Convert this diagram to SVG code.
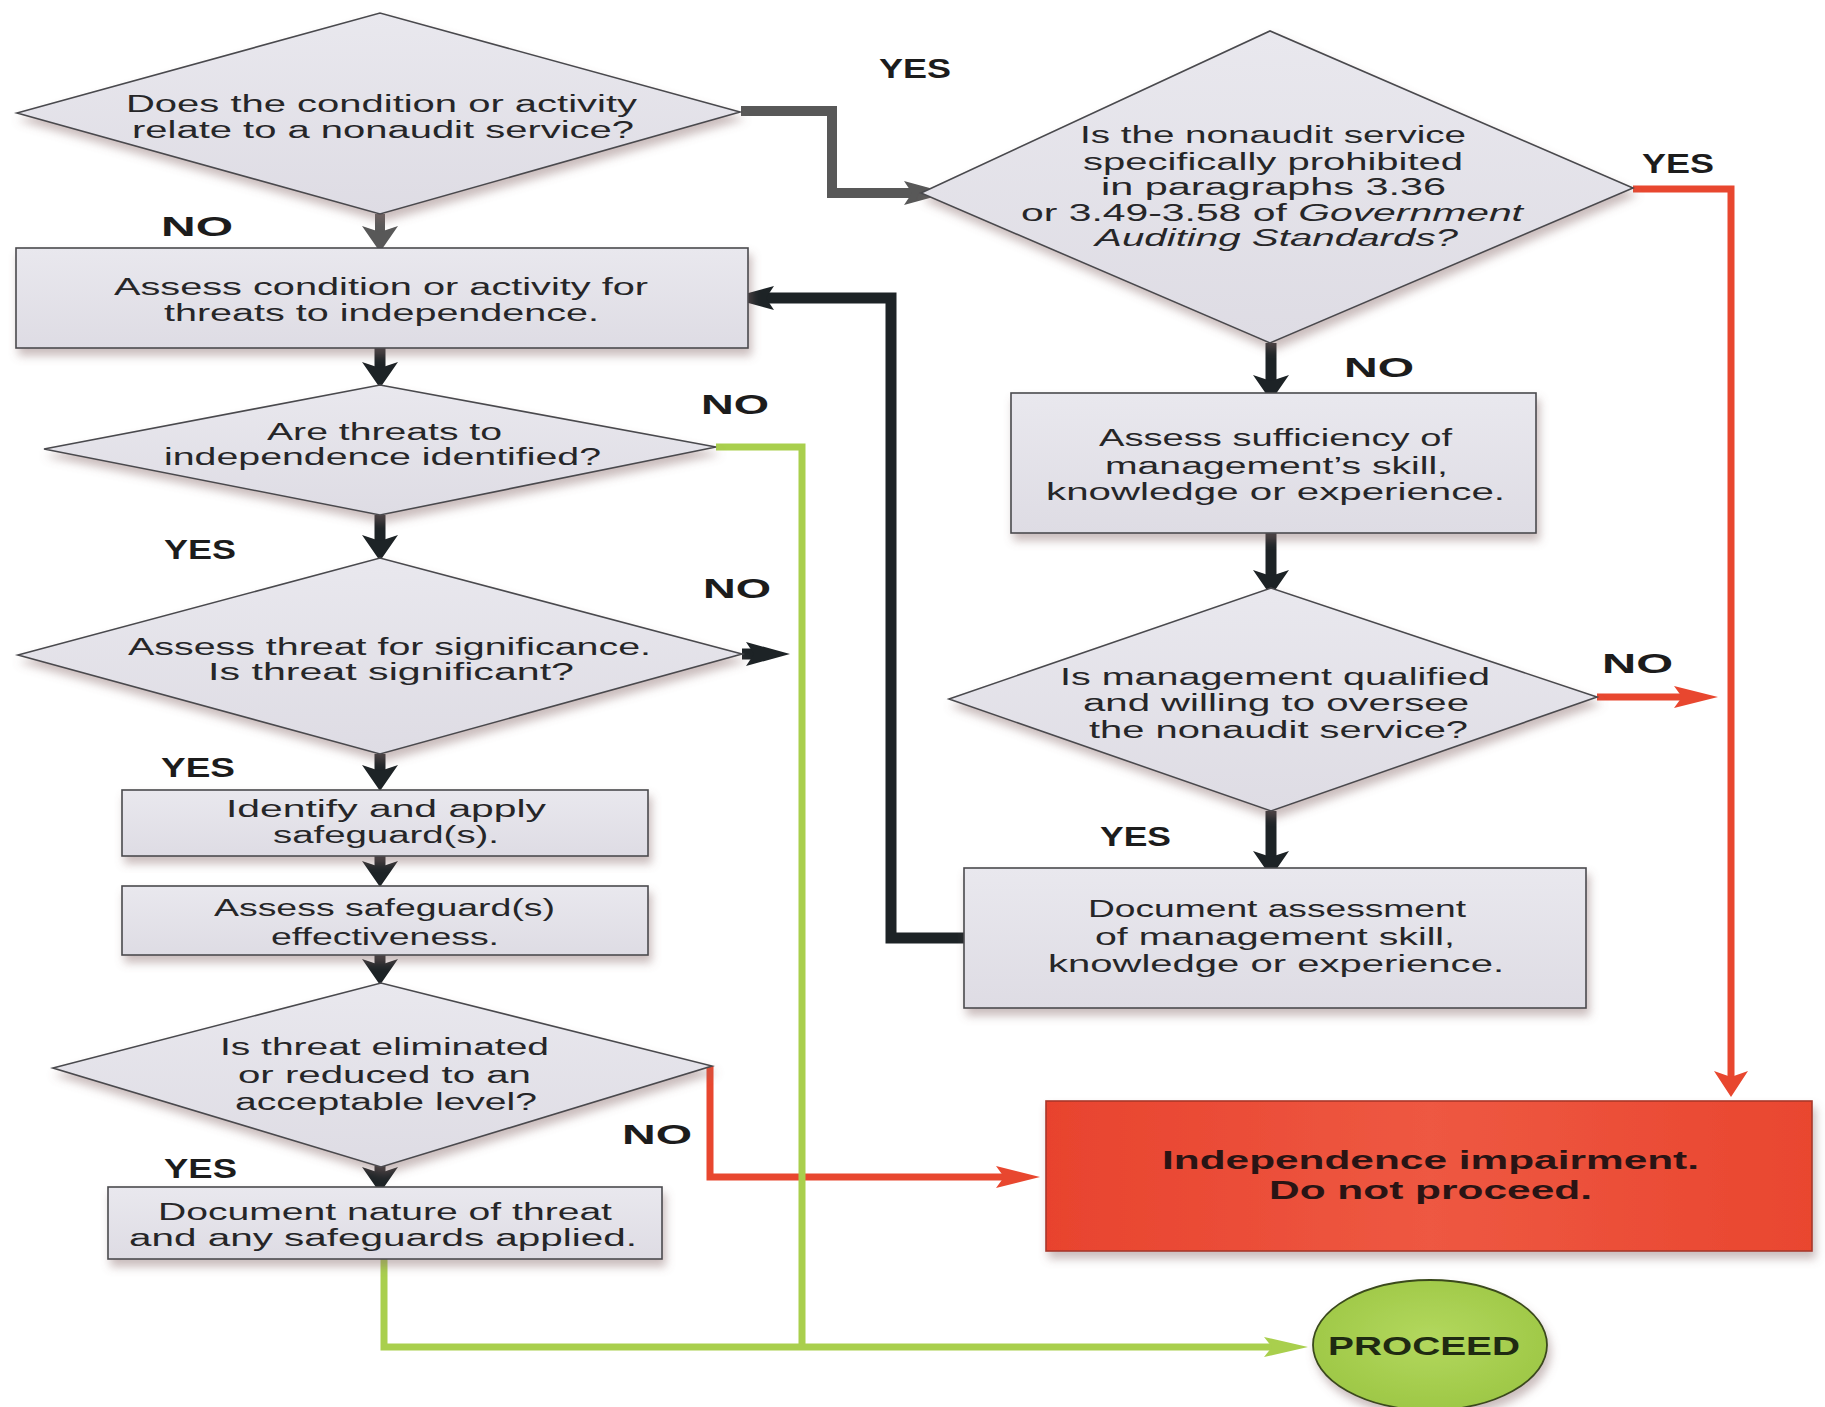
<svg xmlns="http://www.w3.org/2000/svg" width="1825" height="1407" viewBox="0 0 1825 1407">
<style>
.node{fill:url(#gFill);stroke:#4a4a4e;stroke-width:1.6;filter:url(#shadow)}
.t{font-family:"Liberation Sans",Arial,sans-serif;font-size:23px;fill:#262628}
.ti{font-style:italic}
.lb{font-family:"Liberation Sans",Arial,sans-serif;font-size:28px;font-weight:bold;fill:#1c1c1c}
.rb{font-family:"Liberation Sans",Arial,sans-serif;font-size:26px;font-weight:bold;fill:#2a1414}
.pb{font-family:"Liberation Sans",Arial,sans-serif;font-size:25px;font-weight:bold;fill:#1f2a12}
.c{fill:none;stroke-linejoin:miter;stroke-linecap:butt}
.k{stroke:#1d2326;stroke-width:11}
.g{stroke:#585858;stroke-width:10}
.r{stroke:#E8472F;stroke-width:7}
.gr{stroke:#A9CF4D;stroke-width:7}
</style>
<defs>
<linearGradient id="gFill" x1="0" y1="0" x2="0" y2="1">
<stop offset="0" stop-color="#E9E8EE"/>
<stop offset="1" stop-color="#DEDCE4"/>
</linearGradient>
<linearGradient id="gRed" x1="0" y1="0" x2="1" y2="0">
<stop offset="0" stop-color="#E8432E"/>
<stop offset="0.5" stop-color="#EE5842"/>
<stop offset="1" stop-color="#E9462F"/>
</linearGradient>
<radialGradient id="gGreen" cx="0.5" cy="0.45" r="0.6">
<stop offset="0" stop-color="#B3D85E"/>
<stop offset="1" stop-color="#9CC644"/>
</radialGradient>
<filter id="shadow" x="-10%" y="-10%" width="125%" height="135%">
<feDropShadow dx="3" dy="7" stdDeviation="5" flood-color="#8a6a6a" flood-opacity="0.45"/>
</filter>
<marker id="aKV" markerUnits="userSpaceOnUse" orient="auto" refX="6" refY="0" overflow="visible"><path d="M26,0 L0,-18 L6,0 L0,18 Z" fill="#1d2326"/></marker>
<marker id="aKH" markerUnits="userSpaceOnUse" orient="auto" refX="8" refY="0" overflow="visible"><path d="M44,0 L0,-12 L8,0 L0,12 Z" fill="#1d2326"/></marker>
<marker id="aGV" markerUnits="userSpaceOnUse" orient="auto" refX="6" refY="0" overflow="visible"><path d="M26,0 L0,-18 L6,0 L0,18 Z" fill="#585858"/></marker>
<marker id="aGH" markerUnits="userSpaceOnUse" orient="auto" refX="8" refY="0" overflow="visible"><path d="M44,0 L0,-12 L8,0 L0,12 Z" fill="#585858"/></marker>
<marker id="aRV" markerUnits="userSpaceOnUse" orient="auto" refX="6" refY="0" overflow="visible"><path d="M26,0 L0,-17 L6,0 L0,17 Z" fill="#E8472F"/></marker>
<marker id="aRH" markerUnits="userSpaceOnUse" orient="auto" refX="8" refY="0" overflow="visible"><path d="M44,0 L0,-11 L8,0 L0,11 Z" fill="#E8472F"/></marker>
<marker id="aGrH" markerUnits="userSpaceOnUse" orient="auto" refX="8" refY="0" overflow="visible"><path d="M44,0 L0,-10 L8,0 L0,10 Z" fill="#A9CF4D"/></marker>
</defs>
<rect width="1825" height="1407" fill="#ffffff"/>

<g id="connectors">
<path class="c g" d="M741,111 H832 V193 H912" marker-end="url(#aGH)"/>
<path class="c g" d="M380,214 V232" marker-end="url(#aGV)"/>
<path class="c k" d="M380,348 V368" marker-end="url(#aKV)"/>
<path class="c k" d="M380,515 V541" marker-end="url(#aKV)"/>
<path class="c k" d="M380,754 V771" marker-end="url(#aKV)"/>
<path class="c k" d="M380,856 V867" marker-end="url(#aKV)"/>
<path class="c k" d="M380,955 V965" marker-end="url(#aKV)"/>
<path class="c k" d="M380,1166 V1173" marker-end="url(#aKV)"/>
<path class="c k" d="M742,654 H754" marker-end="url(#aKH)"/>
<path class="c k" d="M1271,343 V381" marker-end="url(#aKV)"/>
<path class="c k" d="M1271,533 V576" marker-end="url(#aKV)"/>
<path class="c k" d="M1271,811 V857" marker-end="url(#aKV)"/>
<path class="c k" d="M964,938 H891 V298 H766" marker-end="url(#aKH)"/>
<path class="c r" d="M1633,189 H1731 V1077" marker-end="url(#aRV)"/>
<path class="c r" d="M1597,697 H1682" marker-end="url(#aRH)"/>
<path class="c r" d="M710,1066 V1177 H1004" marker-end="url(#aRH)"/>
<path class="c gr" d="M716,447 H802 V1347"/>
<path class="c gr" d="M384,1259 V1347 H1272" marker-end="url(#aGrH)"/>
</g>

<g id="n1">
<polygon class="node" points="17,113 380,13 740,112 380,214"/>
<text class="t" x="126" y="112" textLength="511" lengthAdjust="spacingAndGlyphs">Does the condition or activity</text>
<text class="t" x="132" y="138" textLength="502" lengthAdjust="spacingAndGlyphs">relate to a nonaudit service?</text>
</g>
<g id="n2">
<polygon class="node" points="921,193 1270,31 1633,188 1270,343"/>
<text class="t" x="1080" y="143" textLength="386" lengthAdjust="spacingAndGlyphs">Is the nonaudit service</text>
<text class="t" x="1083" y="170" textLength="380" lengthAdjust="spacingAndGlyphs">specifically prohibited</text>
<text class="t" x="1101" y="195" textLength="345" lengthAdjust="spacingAndGlyphs">in paragraphs 3.36</text>
<text class="t" x="1021" y="221" textLength="502" lengthAdjust="spacingAndGlyphs">or 3.49-3.58 of <tspan class="ti">Government</tspan></text>
<text class="t ti" x="1095" y="246" textLength="363" lengthAdjust="spacingAndGlyphs">Auditing Standards?</text>
</g>
<g id="n3">
<rect class="node" x="16" y="248" width="732" height="100"/>
<text class="t" x="114" y="295" textLength="534" lengthAdjust="spacingAndGlyphs">Assess condition or activity for</text>
<text class="t" x="164" y="321" textLength="435" lengthAdjust="spacingAndGlyphs">threats to independence.</text>
</g>
<g id="n4">
<polygon class="node" points="44,449 380,385 716,447 380,515"/>
<text class="t" x="267" y="440" textLength="235" lengthAdjust="spacingAndGlyphs">Are threats to</text>
<text class="t" x="164" y="465" textLength="437" lengthAdjust="spacingAndGlyphs">independence identified?</text>
</g>
<g id="n5">
<polygon class="node" points="18,655 380,558 742,654 380,754"/>
<text class="t" x="128" y="655" textLength="523" lengthAdjust="spacingAndGlyphs">Assess threat for significance.</text>
<text class="t" x="208" y="680" textLength="366" lengthAdjust="spacingAndGlyphs">Is threat significant?</text>
</g>
<g id="n6">
<rect class="node" x="122" y="790" width="526" height="66"/>
<text class="t" x="226" y="817" textLength="320" lengthAdjust="spacingAndGlyphs">Identify and apply</text>
<text class="t" x="273" y="843" textLength="226" lengthAdjust="spacingAndGlyphs">safeguard(s).</text>
</g>
<g id="n7">
<rect class="node" x="122" y="886" width="526" height="69"/>
<text class="t" x="214" y="916" textLength="341" lengthAdjust="spacingAndGlyphs">Assess safeguard(s)</text>
<text class="t" x="271" y="945" textLength="228" lengthAdjust="spacingAndGlyphs">effectiveness.</text>
</g>
<g id="n8">
<polygon class="node" points="53,1068 381,983 712,1066 381,1167"/>
<text class="t" x="220" y="1055" textLength="329" lengthAdjust="spacingAndGlyphs">Is threat eliminated</text>
<text class="t" x="238" y="1083" textLength="293" lengthAdjust="spacingAndGlyphs">or reduced to an</text>
<text class="t" x="235" y="1110" textLength="302" lengthAdjust="spacingAndGlyphs">acceptable level?</text>
</g>
<g id="n9">
<rect class="node" x="108" y="1187" width="554" height="72"/>
<text class="t" x="158" y="1220" textLength="454" lengthAdjust="spacingAndGlyphs">Document nature of threat</text>
<text class="t" x="129" y="1246" textLength="508" lengthAdjust="spacingAndGlyphs">and any safeguards applied.</text>
</g>
<g id="n10">
<rect class="node" x="1011" y="393" width="525" height="140"/>
<text class="t" x="1099" y="446" textLength="353" lengthAdjust="spacingAndGlyphs">Assess sufficiency of</text>
<text class="t" x="1105" y="474" textLength="343" lengthAdjust="spacingAndGlyphs">management’s skill,</text>
<text class="t" x="1046" y="500" textLength="459" lengthAdjust="spacingAndGlyphs">knowledge or experience.</text>
</g>
<g id="n11">
<polygon class="node" points="949,699 1271,588 1597,697 1271,811"/>
<text class="t" x="1060" y="685" textLength="430" lengthAdjust="spacingAndGlyphs">Is management qualified</text>
<text class="t" x="1083" y="711" textLength="386" lengthAdjust="spacingAndGlyphs">and willing to oversee</text>
<text class="t" x="1089" y="738" textLength="379" lengthAdjust="spacingAndGlyphs">the nonaudit service?</text>
</g>
<g id="n12">
<rect class="node" x="964" y="868" width="622" height="140"/>
<text class="t" x="1088" y="917" textLength="378" lengthAdjust="spacingAndGlyphs">Document assessment</text>
<text class="t" x="1095" y="945" textLength="360" lengthAdjust="spacingAndGlyphs">of management skill,</text>
<text class="t" x="1048" y="972" textLength="456" lengthAdjust="spacingAndGlyphs">knowledge or experience.</text>
</g>
<g id="n13">
<rect x="1046" y="1101" width="766" height="150" fill="url(#gRed)" stroke="#a8382a" stroke-width="1.6" filter="url(#shadow)"/>
<text class="rb" x="1162" y="1169" textLength="537" lengthAdjust="spacingAndGlyphs">Independence impairment.</text>
<text class="rb" x="1269" y="1199" textLength="323" lengthAdjust="spacingAndGlyphs">Do not proceed.</text>
</g>
<g id="n14">
<ellipse cx="1430" cy="1345" rx="117" ry="65" fill="url(#gGreen)" stroke="#3a4a1c" stroke-width="1.8" filter="url(#shadow)"/>
<text class="pb" x="1328" y="1355" textLength="192" lengthAdjust="spacingAndGlyphs">PROCEED</text>
</g>

<g id="labels">
<text class="lb" x="879" y="78" textLength="72" lengthAdjust="spacingAndGlyphs">YES</text>
<text class="lb" x="1642" y="173" textLength="72" lengthAdjust="spacingAndGlyphs">YES</text>
<text class="lb" x="161" y="236" textLength="72" lengthAdjust="spacingAndGlyphs">NO</text>
<text class="lb" x="701" y="414" textLength="68" lengthAdjust="spacingAndGlyphs">NO</text>
<text class="lb" x="164" y="559" textLength="72" lengthAdjust="spacingAndGlyphs">YES</text>
<text class="lb" x="703" y="598" textLength="68" lengthAdjust="spacingAndGlyphs">NO</text>
<text class="lb" x="161" y="777" textLength="74" lengthAdjust="spacingAndGlyphs">YES</text>
<text class="lb" x="622" y="1144" textLength="70" lengthAdjust="spacingAndGlyphs">NO</text>
<text class="lb" x="164" y="1178" textLength="73" lengthAdjust="spacingAndGlyphs">YES</text>
<text class="lb" x="1344" y="377" textLength="70" lengthAdjust="spacingAndGlyphs">NO</text>
<text class="lb" x="1602" y="673" textLength="71" lengthAdjust="spacingAndGlyphs">NO</text>
<text class="lb" x="1100" y="846" textLength="71" lengthAdjust="spacingAndGlyphs">YES</text>
</g>
</svg>
